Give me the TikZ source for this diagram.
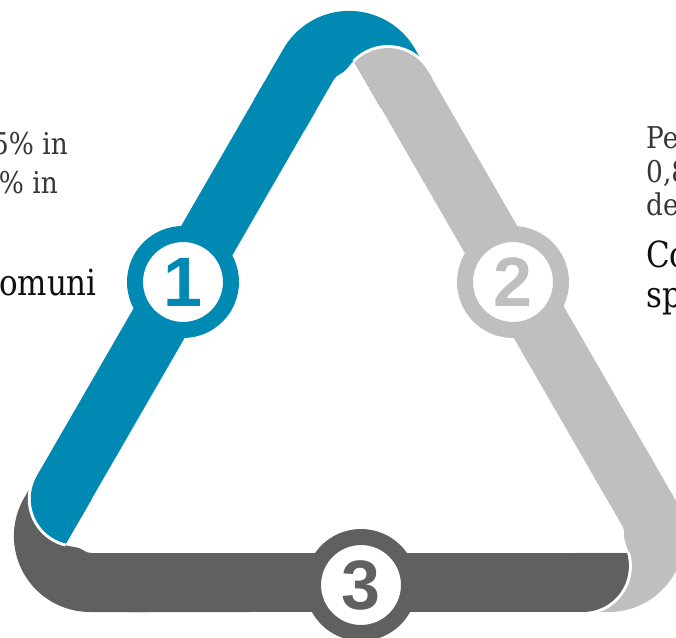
\documentclass[tikz,border=0pt]{standalone}
\usepackage{fontspec}
\setmainfont[FakeStretch=0.88]{DejaVu Serif}
\newfontfamily\bigserif[FakeStretch=0.86]{DejaVu Serif}
\newfontfamily\digitfont{Liberation Sans}
\definecolor{bandblue}{RGB}{0,137,178}
\definecolor{bandlight}{RGB}{191,191,191}
\definecolor{banddark}{RGB}{96,96,96}
\definecolor{txtgray}{RGB}{55,55,55}
\definecolor{txtdark}{RGB}{15,15,15}

% corner piece of a ribbon (local frame: bottom side, centroid at origin)
\newcommand\ribbonpiece[1]{%
  \fill[#1] (-307.9,-82.1) -- (-325.1,-111.7) arc[start angle=150,end angle=270,radius=76]
    -- (-200,-225.7) -- (-200,-166.7) -- (-258,-166.7)
    to[out=180,in=-10] (-272.4,-161.2) -- (-284.2,-159) -- (-256.8,-111.6) -- cycle;}
% straight body of a ribbon with its rounded end and white outline
\newcommand\ribbonbody[1]{%
  \draw[white,line width=6] (277.8,-166.7) arc[start angle=16.4,end angle=-90,radius=46];
  \fill[#1] (-220,-166.7) -- (277.8,-166.7) arc[start angle=16.4,end angle=-90,radius=46]
    -- (-220,-225.7) -- cycle;}

\begin{document}
\begin{tikzpicture}[x=1pt,y=1pt,
  badge/.style={circle,fill=white,line width=16pt,minimum size=96pt,inner sep=0pt,
    font=\digitfont\bfseries\fontsize{70}{70}\selectfont},
  smalltxt/.style={inner sep=0pt,text=txtgray,font=\fontsize{30}{34}\selectfont},
  bigtxt/.style={inner sep=0pt,text=txtdark,font=\bigserif\fontsize{36}{40}\selectfont}]
\useasboundingbox (0,0) rectangle (676,637);
\begin{scope}[shift={(349.2,250.7)}]
  \begin{scope}\ribbonpiece{banddark}\end{scope}
  \begin{scope}[rotate=120]\ribbonpiece{bandlight}\end{scope}
  \begin{scope}[rotate=240]\ribbonpiece{bandblue}\end{scope}
  \begin{scope}\ribbonbody{banddark}\end{scope}
  \begin{scope}[rotate=120]\ribbonbody{bandlight}\end{scope}
  \begin{scope}[rotate=240]\ribbonbody{bandblue}\end{scope}
\end{scope}

\node[badge,draw=bandblue,text=bandblue] (b1) at (183,355) {1};
\node[badge,draw=bandlight,text=bandlight] (b2) at (513,355) {2};
\node[badge,draw=banddark,text=banddark] (b3) at (361,52) {3};

\node[smalltxt,anchor=base east] (l1) at (68,482) {5\% in};
\node[smalltxt,anchor=base east] (l2) at (58,443) {\% in};
\node[bigtxt,anchor=base east] (l3) at (97,341) {omuni};

\node[smalltxt,anchor=base west] (r1) at (646,488) {Pe};
\node[smalltxt,anchor=base west] (r2) at (646,454) {0,8};
\node[smalltxt,anchor=base west] (r3) at (646,421) {de};
\node[bigtxt,anchor=base west] (r4) at (646,369) {Co};
\node[bigtxt,anchor=base west] (r5) at (646,329) {sp};
\end{tikzpicture}
\end{document}
